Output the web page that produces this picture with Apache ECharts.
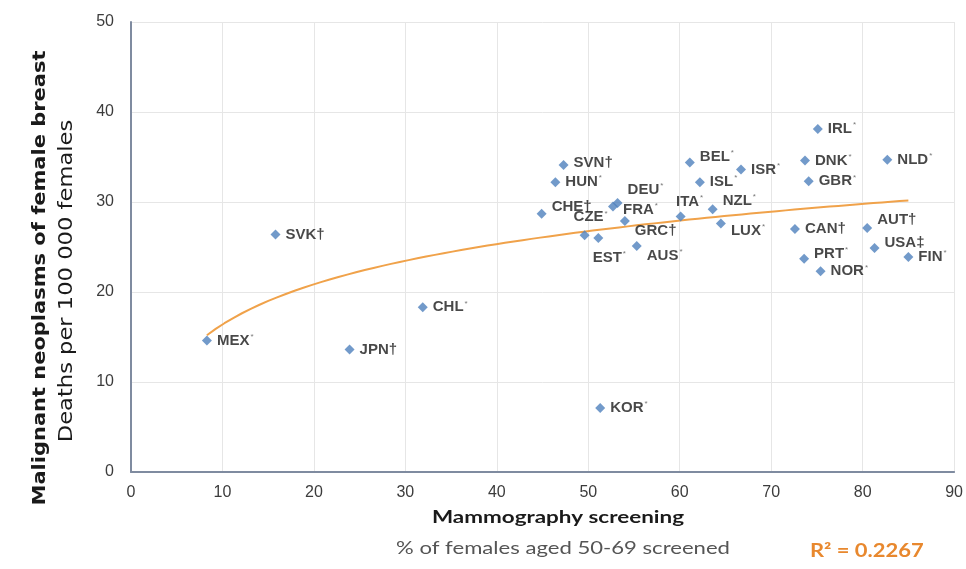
<!DOCTYPE html>
<html>
<head>
<meta charset="utf-8">
<script src="https://cdn.jsdelivr.net/npm/echarts@6/dist/echarts.min.js"></script>
<style>
  html, body { margin: 0; padding: 0; background: #ffffff; }
  #chart { width: 966px; height: 569px; }
</style>
</head>
<body>
<div id="chart"></div>
<script>
// ---- Data ----
const countries = ["MEX","SVK","JPN","CHL","CHE","HUN","SVN","CZE","EST","KOR",
                   "FRA","DEU","GRC","AUS","ITA","BEL","ISL","NZL","LUX","ISR",
                   "CAN","PRT","DNK","GBR","IRL","NOR","AUT","USA","NLD","FIN"];
const suffixes  = ["*","†","†","*","†","*","†","*","*","*",
                   "*","*","†","*","*","*","*","*","*","*",
                   "†","*","*","*","*","*","†","‡","*","*"];
const screening = [8.3, 15.8, 23.9, 31.9, 44.9, 46.4, 47.3, 49.6, 51.1, 51.3,
                   52.7, 53.2, 54.0, 55.3, 60.1, 61.1, 62.2, 63.6, 64.5, 66.7,
                   72.6, 73.6, 73.7, 74.1, 75.1, 75.4, 80.5, 81.3, 82.7, 85.0];
const mortality = [14.6, 26.4, 13.6, 18.3, 28.7, 32.2, 34.1, 26.3, 26.0, 7.1,
                   29.5, 29.9, 27.9, 25.1, 28.4, 34.4, 32.2, 29.2, 27.6, 33.6,
                   27.0, 23.7, 34.6, 32.3, 38.1, 22.3, 27.1, 24.9, 34.7, 23.9];
const xTicks = [0, 10, 20, 30, 40, 50, 60, 70, 80, 90];
const yTicks = [0, 10, 20, 30, 40, 50];
const yTitle = "Malignant neoplasms of female breast";
const ySubtitle = "Deaths per 100 000 females";
const xTitle = "Mammography screening";
const xSubtitle = "% of females aged 50-69 screened";
const r2Text = "R² = 0.2267";

// ---- Label placement (style only) ----
const labelPlace = {
  CHE: {offset: [0, -7]},
  CZE: {position: 'top', offset: [6, 0]},
  EST: {position: 'bottom', offset: [11, 2]},
  DEU: {offset: [0, -13]},
  FRA: {offset: [0, 3]},
  GRC: {offset: [0, 10]},
  AUS: {offset: [0, 10]},
  ITA: {position: 'top', offset: [9, 3]},
  BEL: {offset: [0, -6]},
  NZL: {offset: [0, -8]},
  LUX: {offset: [0, 7]},
  AUT: {offset: [0, -8]},
  USA: {offset: [0, -5]},
  PRT: {offset: [0, -5]},
  SVN: {offset: [0, -2]}
};

// ---- Logarithmic least-squares trend line fitted to the data ----
function logFit(xs, ys) {
  const n = xs.length;
  let sx = 0, sy = 0, sxx = 0, sxy = 0;
  for (let i = 0; i < n; i++) {
    const lx = Math.log(xs[i]);
    sx += lx; sy += ys[i]; sxx += lx * lx; sxy += lx * ys[i];
  }
  const a = (n * sxy - sx * sy) / (n * sxx - sx * sx);
  const b = (sy - a * sx) / n;
  return {a, b};
}
const fit = logFit(screening, mortality);
const xMin = Math.min(...screening), xMax = Math.max(...screening);
const trend = [];
const steps = 80;
for (let i = 0; i <= steps; i++) {
  const x = xMin + (xMax - xMin) * i / steps;
  trend.push([x, fit.a * Math.log(x) + fit.b]);
}

const points = countries.map((c, i) => {
  const p = labelPlace[c] || {};
  return {
    name: c,
    value: [screening[i], mortality[i]],
    label: {
      position: p.position || 'right',
      offset: p.offset || [0, 0],
      formatter: '{n|' + c + '}' + (suffixes[i] === '*' ? '{s|*}' : '{d|' + suffixes[i] + '}')
    }
  };
});

const chart = echarts.init(document.getElementById('chart'), null, {renderer: 'canvas'});
chart.setOption({
  animation: false,
  backgroundColor: '#ffffff',
  grid: {left: 131, right: 10, top: 22, bottom: 97, containLabel: false},
  xAxis: {
    type: 'value', min: xTicks[0], max: xTicks[xTicks.length - 1], interval: 10,
    axisLine: {show: true, onZero: false, lineStyle: {color: '#7f8ba0', width: 2}},
    axisTick: {show: false},
    splitLine: {show: true, lineStyle: {color: '#e6e6e6', width: 1}},
    axisLabel: {color: '#3c3c3c', fontSize: 16, fontFamily: 'Liberation Sans, Arial, sans-serif', margin: 13}
  },
  yAxis: {
    type: 'value', min: yTicks[0], max: yTicks[yTicks.length - 1], interval: 10,
    axisLine: {show: true, onZero: false, lineStyle: {color: '#7f8ba0', width: 2}},
    axisTick: {show: false},
    splitLine: {show: true, lineStyle: {color: '#e6e6e6', width: 1}},
    axisLabel: {color: '#3c3c3c', fontSize: 16, fontFamily: 'Liberation Sans, Arial, sans-serif', margin: 17}
  },
  series: [
    {
      type: 'line',
      data: trend,
      showSymbol: false,
      smooth: false,
      silent: true,
      lineStyle: {color: '#f0a24a', width: 2},
      z: 1
    },
    {
      type: 'scatter',
      data: points,
      symbol: 'diamond',
      symbolSize: 10,
      itemStyle: {color: '#4f81bd'},
      z: 3,
      label: {
        show: true,
        distance: 5,
        rich: {
          n: {fontSize: 15, fontWeight: 'bold', color: '#1a1a1a', fontFamily: 'Liberation Sans, Arial, sans-serif'},
          s: {fontSize: 8, color: '#555555', verticalAlign: 'top', fontFamily: 'Liberation Sans, Arial, sans-serif', padding: [0, 0, 8, 1]},
          d: {fontSize: 15, fontWeight: 'bold', color: '#1a1a1a', fontFamily: 'Liberation Sans, Arial, sans-serif'}
        }
      }
    }
  ],
  graphic: [
    {
      type: 'text',
      x: 40, y: 278, rotation: Math.PI / 2, scaleX: 1.165,
      style: {
        text: yTitle,
        fill: '#1a1a1a', font: 'bold 18px "DejaVu Sans", sans-serif',
        align: 'center', verticalAlign: 'middle'
      }
    },
    {
      type: 'text',
      x: 67, y: 281, rotation: Math.PI / 2, scaleX: 1.19,
      style: {
        text: ySubtitle,
        fill: '#1a1a1a', font: '19px "DejaVu Sans", sans-serif',
        align: 'center', verticalAlign: 'middle'
      }
    },
    {
      type: 'text',
      x: 558, y: 518, scaleX: 1.36,
      style: {
        text: xTitle,
        fill: '#1a1a1a', font: 'bold 16.5px Lato, sans-serif',
        align: 'center', verticalAlign: 'middle'
      }
    },
    {
      type: 'text',
      x: 563, y: 549, scaleX: 1.3,
      style: {
        text: xSubtitle,
        fill: '#555555', font: '17px Lato, sans-serif',
        align: 'center', verticalAlign: 'middle'
      }
    },
    {
      type: 'text',
      x: 810, y: 551, scaleX: 1.22,
      style: {
        text: r2Text,
        fill: '#e8882e', font: 'bold 18px Lato, sans-serif',
        align: 'left', verticalAlign: 'middle'
      }
    }
  ]
});
</script>
</body>
</html>
